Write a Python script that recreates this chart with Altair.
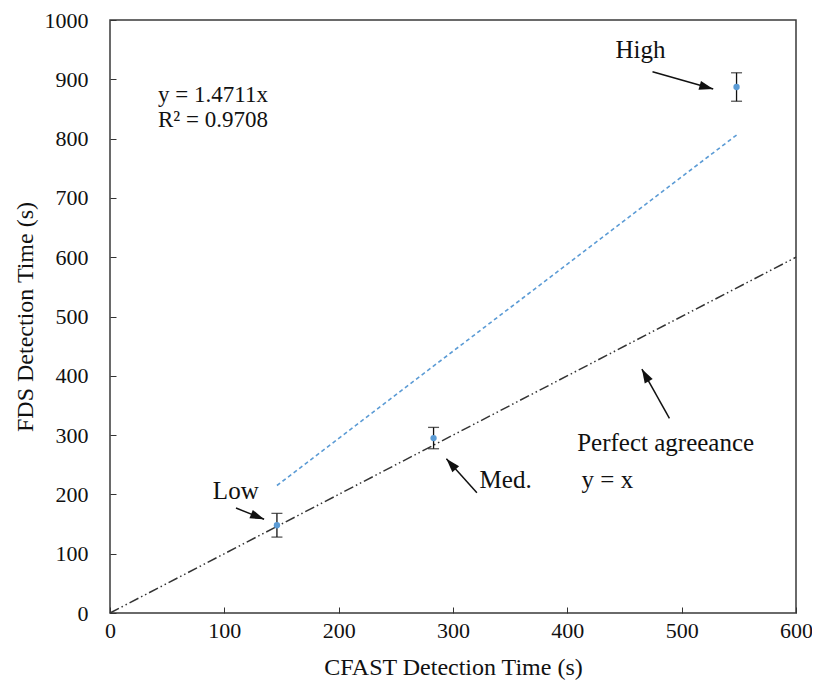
import math
import altair as alt
import pandas as pd

# ---- data ----
cats = ["Low", "Med.", "High"]
cfast = [146, 283, 548]
fds = [148, 295, 887]
err = [20, 18, 24]

trend_x = [146, 548]
trend_y = [215, 806]
perfect_x = [0, 600]
perfect_y = [0, 600]

ann_text = ["High", "Low", "Med.", "Perfect agreeance", "y = x"]
ann_x = [464, 110, 346, 486, 435]
ann_y = [950, 205, 224, 286, 224]

eq_text = ["y = 1.4711x", "R\u00b2 = 0.9708"]
eq_x = [42, 42]
eq_y = [874, 832]

arrow_x0 = [474.5, 110.2, 320.9, 489.3]
arrow_y0 = [912.6, 177.0, 202.9, 328.2]
arrow_x1 = [527.6, 134.8, 294.2, 465.2]
arrow_y1 = [883.5, 158.0, 260.0, 411.3]

x_ticks = [0, 100, 200, 300, 400, 500, 600]
y_ticks = [0, 100, 200, 300, 400, 500, 600, 700, 800, 900, 1000]

# ---- layout ----
W, H = 686, 593
XMAX, YMAX = 600, 1000
FONT = "Liberation Serif"
HEAD_SIZE = 196  # custom symbol radius = sqrt(size)/2 = 7px
HEAD_R = math.sqrt(HEAD_SIZE) / 2

pts = pd.DataFrame({"cat": cats, "x": cfast, "y": fds,
                    "lo": [f - e for f, e in zip(fds, err)],
                    "hi": [f + e for f, e in zip(fds, err)]})
trend = pd.DataFrame({"x": trend_x, "y": trend_y})
perfect = pd.DataFrame({"x": perfect_x, "y": perfect_y})
ann = pd.DataFrame({"t": ann_text, "x": ann_x, "y": ann_y})
eq = pd.DataFrame({"t": eq_text, "x": eq_x, "y": eq_y})

kx = W / XMAX
ky = H / YMAX
rows = []
for x0, y0, x1, y1 in zip(arrow_x0, arrow_y0, arrow_x1, arrow_y1):
    dx = (x1 - x0) * kx
    dy = (y1 - y0) * ky
    L = math.hypot(dx, dy)
    ux, uy = dx / L, dy / L
    ang = math.degrees(math.atan2(dx, dy)) % 360
    rows.append({"x0": x0, "y0": y0, "x1": x1, "y1": y1,
                 "hx": x1 - HEAD_R * ux / kx, "hy": y1 - HEAD_R * uy / ky,
                 "ang": ang})
arrows = pd.DataFrame(rows)

xs = alt.Scale(domain=[0, XMAX], nice=False, zero=False)
ys = alt.Scale(domain=[0, YMAX], nice=False, zero=False)

xaxis = alt.Axis(title="CFAST Detection Time (s)", values=x_ticks, grid=False,
                 format="d",
                 domain=False, ticks=True, tickSize=6, tickColor="#333333",
                 tickWidth=1, offset=-6, labelFont=FONT, labelFontSize=22,
                 labelColor="#111111", labelPadding=7, labelFlush=False,
                 titleFont=FONT, titleFontSize=24, titleFontWeight="normal",
                 titleColor="#111111", titleX=W / 2, titleY=60,
                 titleBaseline="middle", titleAlign="center")
yaxis = alt.Axis(title="FDS Detection Time (s)", values=y_ticks, grid=False,
                 format="d",
                 domain=False, ticks=True, tickSize=6, tickColor="#333333",
                 tickWidth=1, offset=-6, labelFont=FONT, labelFontSize=22,
                 labelColor="#111111", labelPadding=22, labelFlush=False,
                 titleFont=FONT, titleFontSize=24, titleFontWeight="normal",
                 titleColor="#111111", titleX=-91, titleY=H / 2,
                 titleAngle=270, titleBaseline="middle", titleAlign="center")


def X(f):
    return alt.X(f, type="quantitative", scale=xs, axis=xaxis)


def Y(f):
    return alt.Y(f, type="quantitative", scale=ys, axis=yaxis)


perfect_line = alt.Chart(perfect).mark_line(
    color="#333333", strokeWidth=1.5, strokeDash=[10, 3, 1.5, 3, 1.5, 3]
).encode(x=X("x"), y=Y("y"))

trend_line = alt.Chart(trend).mark_line(
    color="#5B9BD5", strokeWidth=1.6, strokeDash=[4, 3]
).encode(x=X("x"), y=Y("y"))

err_rule = alt.Chart(pts).mark_rule(color="#111111", strokeWidth=1.3).encode(
    x=X("x"), y=Y("lo"), y2="hi")
cap_lo = alt.Chart(pts).mark_tick(color="#111111", thickness=1.3, size=11,
                                  orient="horizontal").encode(x=X("x"), y=Y("lo"))
cap_hi = alt.Chart(pts).mark_tick(color="#111111", thickness=1.3, size=11,
                                  orient="horizontal").encode(x=X("x"), y=Y("hi"))
points = alt.Chart(pts).mark_point(filled=True, color="#5B9BD5", size=40,
                                   opacity=1).encode(x=X("x"), y=Y("y"))

arrow_lines = alt.Chart(arrows).mark_rule(color="#111111", strokeWidth=1.5).encode(
    x=X("x0"), y=Y("y0"), x2="x1", y2="y1")
arrow_heads = alt.Chart(arrows).mark_point(
    shape="M0,-1L0.65,1L-0.65,1Z", filled=True, color="#111111", opacity=1,
    size=HEAD_SIZE, strokeWidth=0
).encode(x=X("hx"), y=Y("hy"), angle=alt.Angle("ang:Q", scale=None))

ann_text_layer = alt.Chart(ann).mark_text(
    font=FONT, fontSize=25, color="#111111", align="center", baseline="middle"
).encode(x=X("x"), y=Y("y"), text="t:N")

eq_layer = alt.Chart(eq).mark_text(
    font=FONT, fontSize=23, color="#111111", align="left", baseline="middle"
).encode(x=X("x"), y=Y("y"), text="t:N")

chart = alt.layer(
    perfect_line, trend_line, err_rule, cap_lo, cap_hi, points,
    arrow_lines, arrow_heads, ann_text_layer, eq_layer
).properties(
    width=W, height=H,
    autosize=alt.AutoSizeParams(type="none"),
    padding={"left": 102, "top": 12, "right": 16, "bottom": 68},
    background="white"
).configure_view(stroke="#3a3a3a", strokeWidth=1.5)

chart.save("out.html", embed_options={"renderer": "svg", "actions": False})
